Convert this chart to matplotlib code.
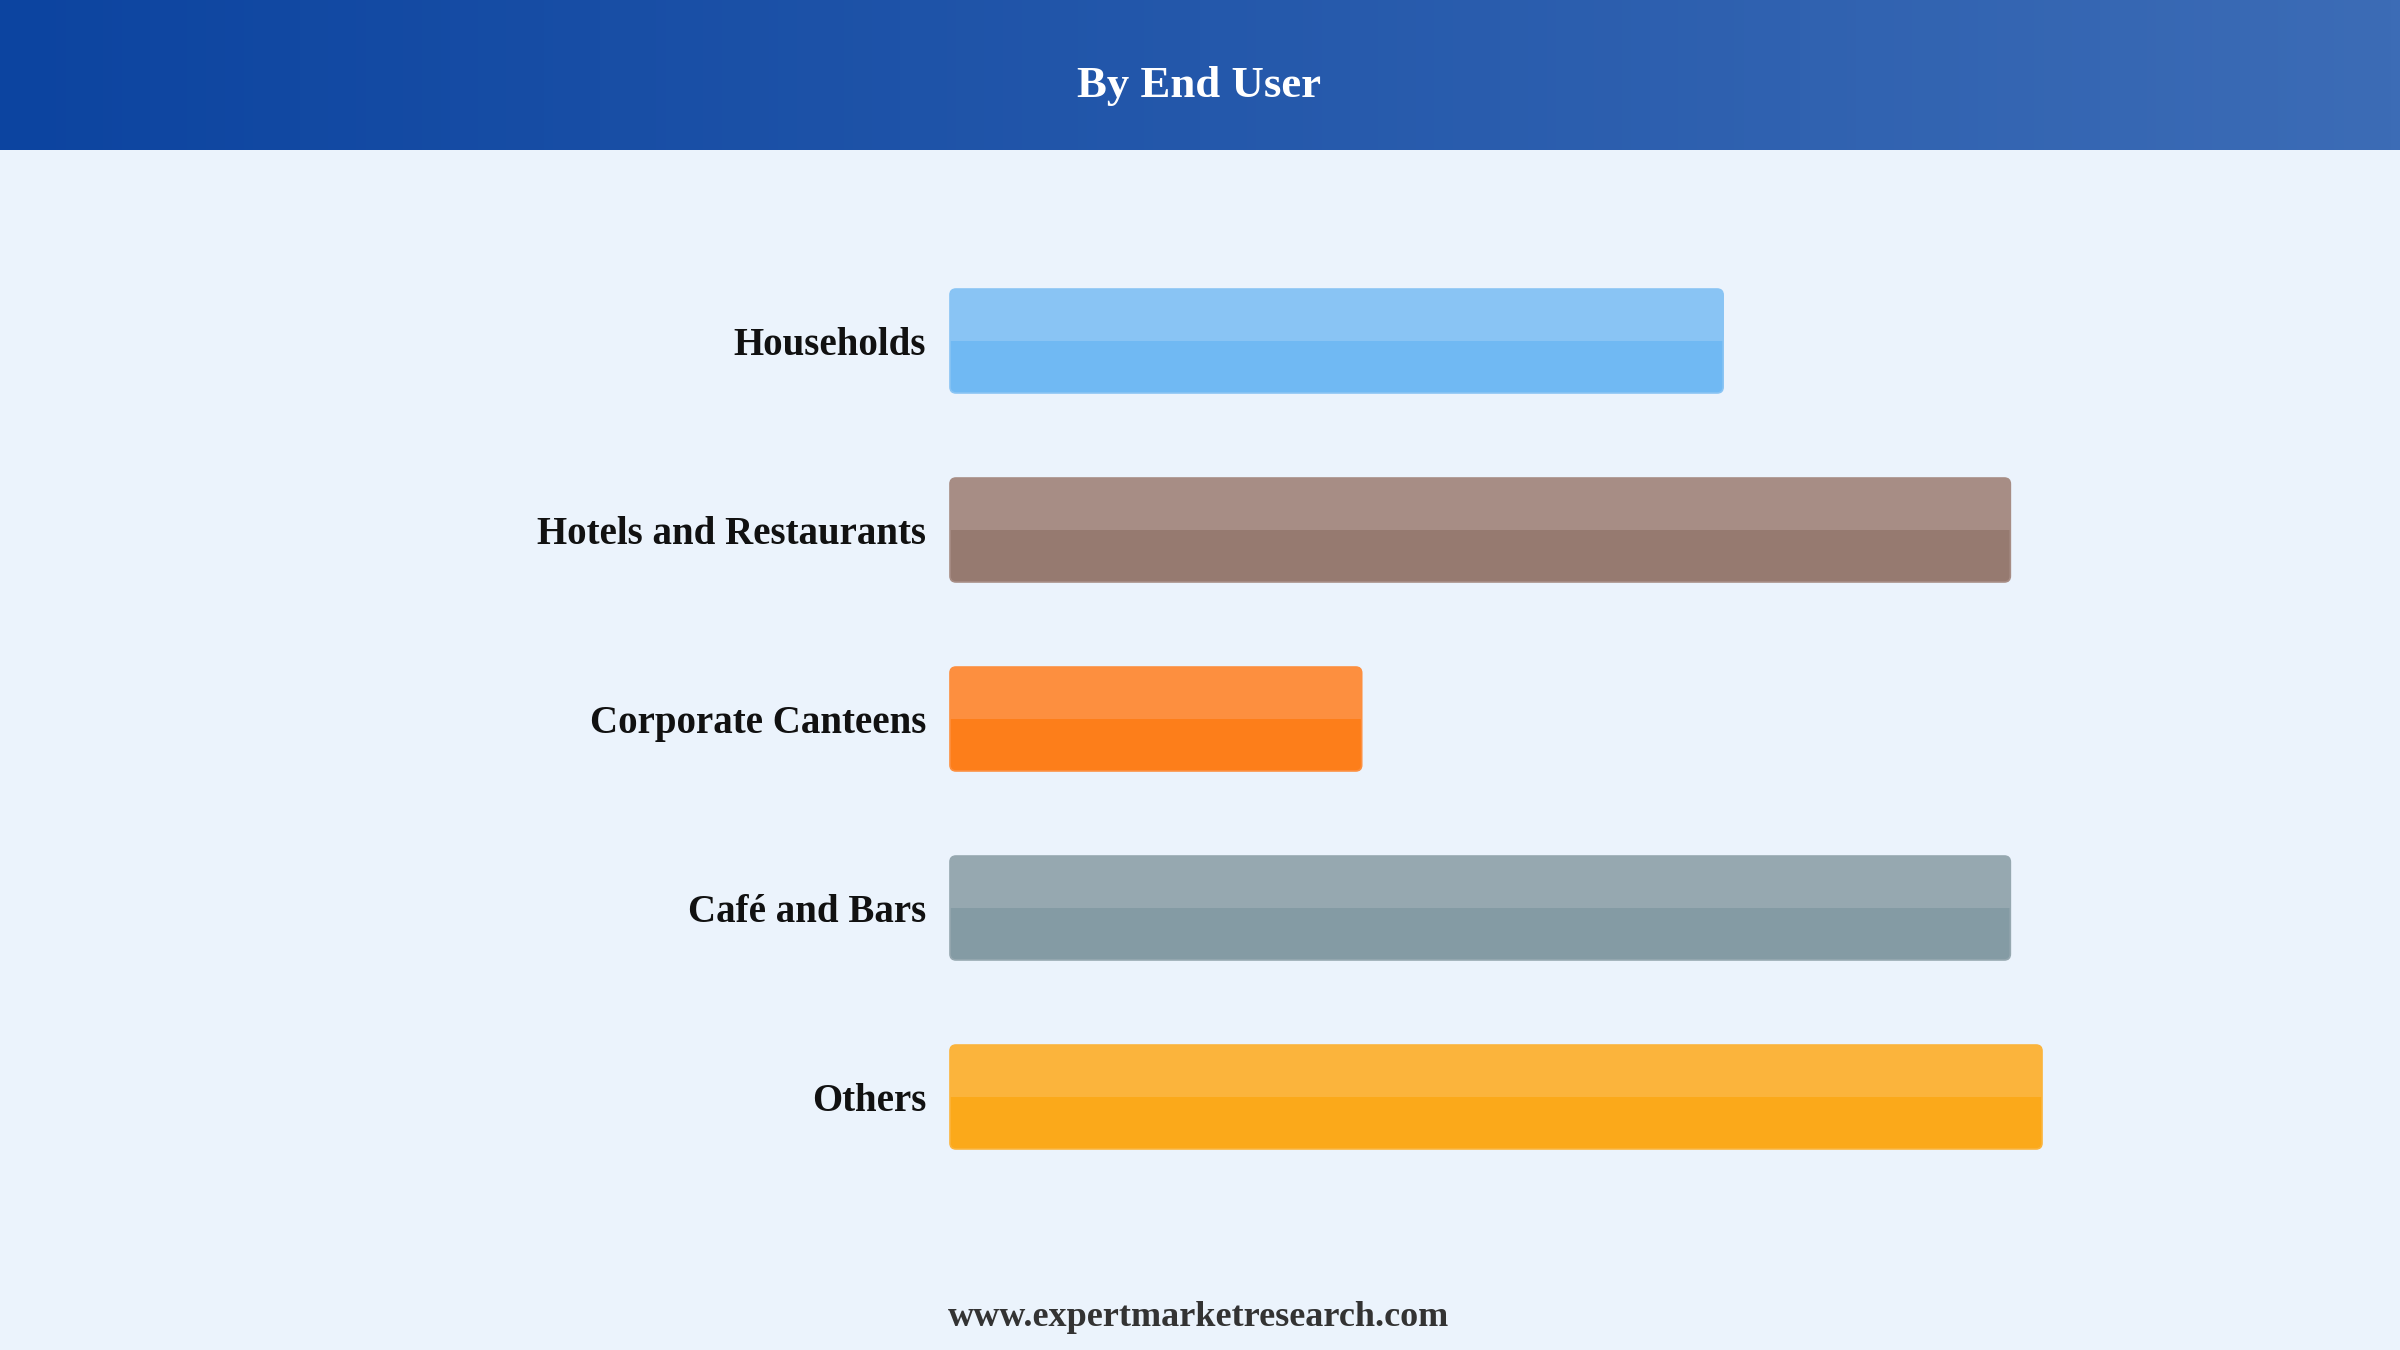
import matplotlib.pyplot as plt
import numpy as np
from matplotlib.patches import FancyBboxPatch

# data
categories = ["Households", "Hotels and Restaurants", "Corporate Canteens", "Café and Bars", "Others"]
values = [70.8, 97.1, 37.7, 97.1, 100.0]
top_colors = ["#89C4F4", "#A78D85", "#FD8F3F", "#96A8B0", "#FBB43C"]
bottom_colors = ["#70B9F3", "#967A70", "#FD7E1A", "#849BA4", "#FBA91A"]

W, H, DPI = 2400, 1350, 200
bg = "#EBF3FC"

plt.rcParams['font.family'] = ['Liberation Serif', 'DejaVu Serif']

fig = plt.figure(figsize=(W / DPI, H / DPI), dpi=DPI, facecolor=bg)

# header band with horizontal gradient
head = fig.add_axes([0, 1 - 150 / H, 1, 150 / H])
grad = np.linspace(0, 1, 256).reshape(1, -1)
left = np.array([12, 68, 160]) / 255
right = np.array([60, 108, 182]) / 255
img = left[None, None, :] * (1 - grad[..., None]) + right[None, None, :] * grad[..., None]
head.imshow(img, aspect="auto", extent=[0, 1, 0, 1])
head.set_axis_off()
fig.text(1199 / W, 1 - 86 / H, "By End User", ha="center", va="center",
         fontsize=16.1, fontweight="bold", color="white")

# bar area: x from 950 px, y centres 341..1097 px
x0, x1 = 950, 2042
ytop, ybot = 341 - 94.5, 1097 + 94.5
ax = fig.add_axes([x0 / W, 1 - ybot / H, (x1 - x0) / W, (ybot - ytop) / H])
ax.set_facecolor("none")
ax.set_xlim(0, 100)
ax.set_ylim(len(categories) - 0.5, -0.5)
ax.set_axis_off()

y = np.arange(len(categories))
bh = 0.55
bars = ax.barh(y, values, height=bh, color="none")

# pixel per unit to keep corners circular
px_x = (x1 - x0) / 100
px_y = (ybot - ytop) / len(categories)
r = 6 / px_x
aspect = px_x / px_y

for b, ct, cb in zip(bars, top_colors, bottom_colors):
    bx, by, bw, bhh = b.get_x(), b.get_y(), b.get_width(), b.get_height()
    full = FancyBboxPatch((bx, by), bw, bhh, boxstyle=f"round,pad=0,rounding_size={r}",
                          mutation_aspect=aspect, facecolor=cb, edgecolor=ct,
                          linewidth=0.6, clip_on=False)
    ax.add_patch(full)
    # lighter upper half (y axis is inverted, so upper half starts at by)
    half = FancyBboxPatch((bx, by), bw, bhh / 2, boxstyle=f"round,pad=0,rounding_size={r}",
                          mutation_aspect=aspect, facecolor=ct, edgecolor="none",
                          clip_on=False)
    ax.add_patch(half)
    ax.barh(b.get_y() + bhh * 0.375, bw, height=bhh / 4, left=bx, color=ct, linewidth=0)

for yi, name in zip(y, categories):
    ax.text(-24 / px_x, yi + 4.5 / px_y, name, ha="right", va="center", fontsize=14.0,
            fontweight="bold", color="#111111")

fig.text(1199 / W, 1 - 1318 / H, "www.expertmarketresearch.com", ha="center", va="center",
         fontsize=13.0, fontweight="bold", color="#333333")

fig.savefig("out.png", dpi=DPI, facecolor=bg)
